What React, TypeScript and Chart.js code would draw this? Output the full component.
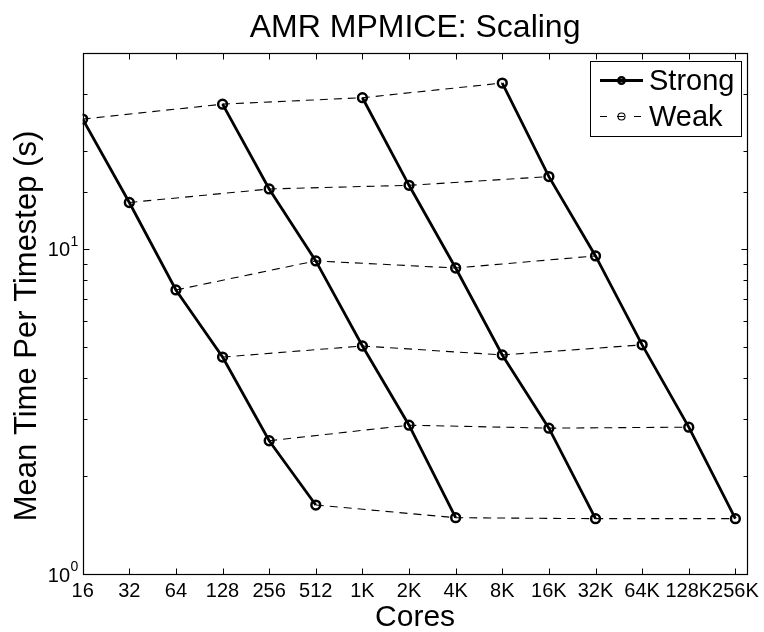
import React, { useEffect, useRef } from 'react';
import { Chart, registerables } from 'chart.js';

Chart.register(...registerables);

const cores = ['16', '32', '64', '128', '256', '512', '1K', '2K', '4K', '8K', '16K', '32K', '64K', '128K', '256K'];
const strongStart = ['16', '128', '1K', '8K'];
const strongRun1 = [25.1, 13.9, 7.48, 4.65, 2.57, 1.63];
const strongRun2 = [27.9, 15.3, 9.19, 5.03, 2.87, 1.49];
const strongRun3 = [29.2, 15.7, 8.74, 4.72, 2.81, 1.48];
const strongRun4 = [32.4, 16.7, 9.52, 5.07, 2.83, 1.48];
const yDecades = [1, 10];
const titleText = 'AMR MPMICE: Scaling';
const xLabel = 'Cores';
const yLabel = 'Mean Time Per Timestep (s)';
const legendLabels = ['Strong', 'Weak'];

const FONT = "'Liberation Sans', Arial, Helvetica, sans-serif";

const strongRuns = [strongRun1, strongRun2, strongRun3, strongRun4];

function buildDatasets() {
  const sets: any[] = [];
  strongRuns.forEach((run, k) => {
    const s = cores.indexOf(strongStart[k]);
    sets.push({
      label: legendLabels[0],
      data: run.map((v, i) => ({ x: s + i, y: v })),
      borderColor: '#000',
      backgroundColor: 'rgba(0,0,0,0)',
      borderWidth: 2.8,
      pointRadius: 4.4,
      pointBorderWidth: 2.5,
      pointBorderColor: '#000',
      pointBackgroundColor: 'rgba(0,0,0,0)',
      showLine: true,
      tension: 0,
    });
  });
  for (let r = 0; r < strongRun1.length; r++) {
    sets.push({
      label: legendLabels[1],
      data: strongRuns.map((run, k) => ({ x: cores.indexOf(strongStart[k]) + r, y: run[r] })),
      borderColor: '#000',
      backgroundColor: 'rgba(0,0,0,0)',
      borderWidth: 1.1,
      borderDash: [8, 6],
      pointRadius: 4.4,
      pointBorderWidth: 1,
      pointBorderColor: '#000',
      pointBackgroundColor: 'rgba(0,0,0,0)',
      showLine: true,
      tension: 0,
    });
  }
  return sets;
}

const matlabPlugin = {
  id: 'matlabDecor',
  beforeDraw(chart: any) {
    const { ctx } = chart;
    ctx.save();
    ctx.fillStyle = '#fff';
    ctx.fillRect(0, 0, chart.width, chart.height);
    ctx.restore();
  },
  afterDraw(chart: any) {
    const { ctx, chartArea: a, scales } = chart;
    const x = scales.x;
    const y = scales.y;
    ctx.save();
    ctx.strokeStyle = '#000';
    ctx.lineWidth = 1.2;
    const L = Math.round(a.left) + 0.5;
    const R = Math.round(a.right) + 0.5;
    const T = Math.round(a.top) + 0.5;
    const B = Math.round(a.bottom) + 0.5;
    ctx.strokeRect(L, T, R - L, B - T);
    ctx.lineWidth = 1;
    ctx.beginPath();
    for (let i = 0; i < cores.length; i++) {
      const px = Math.round(x.getPixelForValue(i)) + 0.5;
      ctx.moveTo(px, B);
      ctx.lineTo(px, B - 6);
      ctx.moveTo(px, T);
      ctx.lineTo(px, T + 6);
    }
    y.ticks.forEach((t: any) => {
      const py = Math.round(y.getPixelForValue(t.value)) + 0.5;
      const major = yDecades.indexOf(t.value) >= 0;
      const len = major ? 6 : 4;
      ctx.moveTo(L, py);
      ctx.lineTo(L + len, py);
      ctx.moveTo(R, py);
      ctx.lineTo(R - len, py);
    });
    ctx.stroke();

    ctx.fillStyle = '#000';
    // title centred over the plot area
    ctx.font = `32px ${FONT}`;
    ctx.textAlign = 'center';
    ctx.textBaseline = 'alphabetic';
    ctx.fillText(titleText, (a.left + a.right) / 2, 37);

    // x axis title
    ctx.font = `30px ${FONT}`;
    ctx.fillText(xLabel, (a.left + a.right) / 2, 626);

    // y axis title
    ctx.save();
    ctx.translate(36, 326);
    ctx.rotate(-Math.PI / 2);
    ctx.font = `31px ${FONT}`;
    ctx.textAlign = 'center';
    ctx.textBaseline = 'alphabetic';
    ctx.fillText(yLabel, 0, 0);
    ctx.restore();

    // y decade labels with superscript exponent
    yDecades.forEach((v) => {
      const py = y.getPixelForValue(v);
      ctx.font = `20px ${FONT}`;
      ctx.textAlign = 'right';
      ctx.textBaseline = 'middle';
      ctx.fillText('10', 70, py + 2);
      ctx.font = `14px ${FONT}`;
      ctx.textAlign = 'left';
      ctx.fillText(String(Math.round(Math.log10(v))), 70.5, py - 7);
    });

    // legend
    const bx = 590.5, by = 61.5, bw = 151, bh = 75;
    ctx.fillStyle = '#fff';
    ctx.fillRect(bx, by, bw, bh);
    ctx.strokeRect(bx, by, bw, bh);
    const y1 = 80.5, y2 = 116.5;
    ctx.lineWidth = 2.8;
    ctx.beginPath();
    ctx.moveTo(600, y1);
    ctx.lineTo(643, y1);
    ctx.stroke();
    ctx.lineWidth = 2.4;
    ctx.beginPath();
    ctx.arc(621.5, y1, 3.3, 0, Math.PI * 2);
    ctx.stroke();
    ctx.lineWidth = 1.1;
    ctx.setLineDash([7, 10]);
    ctx.beginPath();
    ctx.moveTo(600, y2);
    ctx.lineTo(643, y2);
    ctx.stroke();
    ctx.setLineDash([]);
    ctx.beginPath();
    ctx.arc(621.5, y2, 3.5, 0, Math.PI * 2);
    ctx.stroke();
    ctx.fillStyle = '#000';
    ctx.font = `29px ${FONT}`;
    ctx.textAlign = 'left';
    ctx.textBaseline = 'middle';
    ctx.fillText(legendLabels[0], 649, y1 + 1);
    ctx.fillText(legendLabels[1], 649, y2 + 1);
    ctx.restore();
  },
};

export default function App() {
  const ref = useRef<HTMLCanvasElement | null>(null);
  useEffect(() => {
    if (!ref.current) return;
    const chart = new Chart(ref.current, {
      type: 'scatter',
      data: { datasets: buildDatasets() },
      options: {
        animation: false,
        responsive: false,
        devicePixelRatio: 1,
        layout: { padding: { left: 0, right: 14.7, top: 53.3, bottom: 0 } },
        plugins: {
          legend: { display: false },
          tooltip: { enabled: false },
          title: { display: false },
        },
        scales: {
          x: {
            type: 'linear',
            min: 0,
            max: 14.26,
            grid: { display: false, drawTicks: false },
            border: { display: false },
            ticks: {
              stepSize: 1,
              autoSkip: false,
              includeBounds: false,
              maxRotation: 0,
              minRotation: 0,
              color: '#000',
              font: { family: FONT, size: 20 },
              padding: 5,
              callback: (v: any) => (Number.isInteger(v) && cores[v] !== undefined ? cores[v] : ''),
            },
            title: { display: false },
            afterFit: (s: any) => {
              s.height = 58;
            },
          },
          y: {
            type: 'logarithmic',
            min: 1,
            max: 40,
            grid: { display: false, drawTicks: false },
            border: { display: false },
            ticks: { display: false },
            title: { display: false },
            afterFit: (s: any) => {
              s.width = 82.7;
            },
          },
        },
      } as any,
      plugins: [matlabPlugin],
    });
    return () => chart.destroy();
  }, []);
  return (
    <div style={{ position: 'absolute', left: 0, top: 0, width: 764, height: 632 }}>
      <canvas ref={ref} width={764} height={632} />
    </div>
  );
}
